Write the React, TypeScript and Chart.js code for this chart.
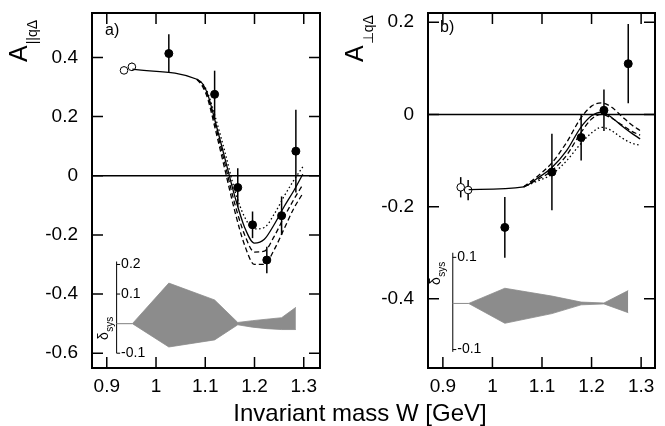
import { useEffect, useRef } from 'react';
import { Chart, registerables } from 'chart.js';
Chart.register(...registerables);

const FONT = '"Liberation Sans", Arial, Helvetica, sans-serif';

// ---- shared x axis ----
const xTicks = [0.9, 1.0, 1.1, 1.2, 1.3];
const xTickLabels = ['0.9', '1', '1.1', '1.2', '1.3'];

// ---- panel a ----
const aYTicks = [-0.6, -0.4, -0.2, 0, 0.2, 0.4];
const aYTickLabels = ['-0.6', '-0.4', '-0.2', '0', '0.2', '0.4'];
const aOpenW = [0.935, 0.951];
const aOpenY = [0.356, 0.368];
const aOpenErr = [0.012, 0.014];
const aW = [1.026, 1.119, 1.166, 1.196, 1.225, 1.255, 1.284];
const aY = [0.413, 0.275, -0.04, -0.166, -0.285, -0.135, 0.083];
const aErr = [0.065, 0.08, 0.065, 0.045, 0.045, 0.065, 0.14];
const aSolidW = [0.952, 1.083, 1.095, 1.105, 1.12, 1.14, 1.16, 1.18, 1.2, 1.22, 1.24, 1.26, 1.28, 1.298];
const aSolidY = [0.36, 0.326, 0.31, 0.275, 0.185, 0.058, -0.07, -0.175, -0.228, -0.215, -0.165, -0.105, -0.05, 0.005];
const aModW = [1.083, 1.095, 1.105, 1.12, 1.14, 1.16, 1.18, 1.2, 1.22, 1.24, 1.26, 1.28, 1.298];
const aDottedY = [0.326, 0.31, 0.28, 0.2, 0.08, -0.05, -0.14, -0.18, -0.175, -0.13, -0.07, -0.015, 0.03];
const aDashed1Y = [0.326, 0.305, 0.27, 0.175, 0.04, -0.095, -0.2, -0.258, -0.255, -0.205, -0.14, -0.08, -0.03];
const aDashed2Y = [0.326, 0.3, 0.26, 0.16, 0.02, -0.12, -0.235, -0.3, -0.3, -0.25, -0.18, -0.11, -0.06];
const aBandW = [0.92, 0.952, 1.026, 1.119, 1.166, 1.196, 1.225, 1.255, 1.284];
const aBandUp = [0, 0, 0.137, 0.08, 0.004, 0.01, 0.015, 0.02, 0.055];
const aBandLo = [0, 0, -0.079, -0.055, -0.004, -0.012, -0.017, -0.02, -0.02];
const aInsetTicks = [0.2, 0.1, -0.1];
const aInsetLabels = ['0.2', '0.1', '-0.1'];

// ---- panel b ----
const bYTicks = [-0.4, -0.2, 0, 0.2];
const bYTickLabels = ['-0.4', '-0.2', '0', '0.2'];
const bOpenW = [0.936, 0.951];
const bOpenY = [-0.158, -0.164];
const bOpenErr = [0.022, 0.022];
const bW = [1.025, 1.12, 1.179, 1.225, 1.274];
const bY = [-0.245, -0.125, -0.05, 0.009, 0.11];
const bErr = [0.066, 0.083, 0.05, 0.045, 0.086];
const bSolidW = [0.952, 1.063, 1.09, 1.12, 1.15, 1.177, 1.2, 1.22, 1.24, 1.26, 1.28, 1.298];
const bSolidY = [-0.163, -0.157, -0.139, -0.115, -0.078, -0.03, -0.003, 0.005, -0.006, -0.024, -0.04, -0.053];
const bModW = [1.063, 1.09, 1.12, 1.15, 1.177, 1.2, 1.22, 1.24, 1.26, 1.28, 1.298];
const bDashed1Y = [-0.157, -0.135, -0.105, -0.06, -0.01, 0.018, 0.025, 0.016, -0.003, -0.022, -0.035];
const bDashed2Y = [-0.157, -0.142, -0.122, -0.088, -0.042, -0.01, 0.0, -0.008, -0.022, -0.036, -0.045];
const bDottedY = [-0.157, -0.145, -0.13, -0.1, -0.065, -0.04, -0.028, -0.035, -0.05, -0.062, -0.067];
const bBandW = [0.92, 0.952, 1.025, 1.12, 1.179, 1.225, 1.274];
const bBandUp = [0, 0, 0.033, 0.016, 0.003, 0.001, 0.028];
const bBandLo = [0, 0, -0.043, -0.022, -0.003, -0.001, -0.02];
const bInsetTicks = [0.1, -0.1];
const bInsetLabels = ['0.1', '-0.1'];

const pts = (xs: number[], ys: number[]) => xs.map((x, i) => ({ x, y: ys[i] }));

const curve = (xs: number[], ys: number[], dash: number[]) => ({
  data: pts(xs, ys),
  showLine: true,
  pointRadius: 0,
  borderColor: '#000',
  borderWidth: 1.3,
  borderDash: dash,
  fill: false,
  cubicInterpolationMode: 'monotone',
});

type Panel = {
  xMin: number; xMax: number; yMin: number; yMax: number;
  yTicks: number[]; yTickLabels: string[];
  leftW: number; canvasW: number;
  insetZero: number; insetTop: number; insetBottom: number;
  insetTicks: number[]; insetLabels: string[];
  bandW: number[]; bandUp: number[]; bandLo: number[];
  curves: any[];
  openW: number[]; openY: number[]; openErr: number[];
  w: number[]; y: number[]; err: number[];
  label: string; labelX: number; labelY: number;
  sub: string; titleX: number; titleY: number;
  deltaX: number; deltaY: number;
};

const panelA: Panel = {
  xMin: 0.87, xMax: 1.333, yMin: -0.65, yMax: 0.55,
  yTicks: aYTicks, yTickLabels: aYTickLabels,
  leftW: 92, canvasW: 330,
  insetZero: -0.5, insetTop: 0.21, insetBottom: -0.1,
  insetTicks: aInsetTicks, insetLabels: aInsetLabels,
  bandW: aBandW, bandUp: aBandUp, bandLo: aBandLo,
  curves: [
    curve(aSolidW, aSolidY, []),
    curve(aModW, aDottedY, [1.5, 2.5]),
    curve(aModW, aDashed1Y, [5, 3]),
    curve(aModW, aDashed2Y, [5, 3]),
  ],
  openW: aOpenW, openY: aOpenY, openErr: aOpenErr,
  w: aW, y: aY, err: aErr,
  label: 'a)', labelX: 105, labelY: 35,
  sub: '||qΔ', titleX: 27, titleY: 62,
  deltaX: 108, deltaY: 340,
};

const panelB: Panel = {
  xMin: 0.87, xMax: 1.328, yMin: -0.55, yMax: 0.22,
  yTicks: bYTicks, yTickLabels: bYTickLabels,
  leftW: 98, canvasW: 335,
  insetZero: -0.41, insetTop: 0.11, insetBottom: -0.105,
  insetTicks: bInsetTicks, insetLabels: bInsetLabels,
  bandW: bBandW, bandUp: bBandUp, bandLo: bBandLo,
  curves: [
    curve(bSolidW, bSolidY, []),
    curve(bModW, bDashed1Y, [5, 3]),
    curve(bModW, bDashed2Y, [5, 3]),
    curve(bModW, bDottedY, [1.5, 2.5]),
  ],
  openW: bOpenW, openY: bOpenY, openErr: bOpenErr,
  w: bW, y: bY, err: bErr,
  label: 'b)', labelX: 110, labelY: 32,
  sub: '⊥qΔ', titleX: 33, titleY: 62,
  deltaX: 110, deltaY: 285,
};

function resetCtx(ctx: CanvasRenderingContext2D) {
  ctx.setLineDash([]);
  ctx.globalAlpha = 1;
  ctx.globalCompositeOperation = 'source-over';
  ctx.strokeStyle = '#000';
  ctx.fillStyle = '#000';
  ctx.lineCap = 'butt';
}

function makeDeco(p: Panel) {
  return {
    id: 'deco',
    beforeDatasetsDraw(chart: any) {
      const { ctx, chartArea: ca, scales } = chart;
      const xs = scales.x, ys = scales.y;
      ctx.save();
      resetCtx(ctx);
      // frame ticks (inward, mirrored)
      ctx.lineWidth = 1.5;
      const tl = 11;
      xTicks.forEach((t) => {
        const px = xs.getPixelForValue(t);
        ctx.beginPath();
        ctx.moveTo(px, ca.bottom); ctx.lineTo(px, ca.bottom - tl);
        ctx.moveTo(px, ca.top); ctx.lineTo(px, ca.top + tl);
        ctx.stroke();
      });
      p.yTicks.forEach((t) => {
        const py = ys.getPixelForValue(t);
        ctx.beginPath();
        ctx.moveTo(ca.left, py); ctx.lineTo(ca.left + tl, py);
        ctx.moveTo(ca.right, py); ctx.lineTo(ca.right - tl, py);
        ctx.stroke();
      });
      ctx.lineWidth = 2;
      ctx.beginPath();
      ctx.rect(ca.left, ca.top, ca.right - ca.left, ca.bottom - ca.top);
      ctx.stroke();
      // zero line
      ctx.lineWidth = 1.5;
      const y0 = ys.getPixelForValue(0);
      ctx.beginPath(); ctx.moveTo(ca.left, y0); ctx.lineTo(ca.right, y0); ctx.stroke();
      // inset axis
      const ix = xs.getPixelForValue(0.92);
      ctx.lineWidth = 1;
      ctx.beginPath();
      ctx.moveTo(ix, ys.getPixelForValue(p.insetTop + p.insetZero));
      ctx.lineTo(ix, ys.getPixelForValue(p.insetBottom + p.insetZero));
      ctx.stroke();
      ctx.font = `14px ${FONT}`;
      ctx.textBaseline = 'middle';
      ctx.textAlign = 'left';
      p.insetTicks.forEach((t, i) => {
        const py = ys.getPixelForValue(t + p.insetZero);
        ctx.beginPath(); ctx.moveTo(ix, py); ctx.lineTo(ix + 3.5, py); ctx.stroke();
        ctx.fillText(p.insetLabels[i], ix + 4.5, py);
      });
      // delta_sys label
      ctx.save();
      ctx.translate(p.deltaX, p.deltaY);
      ctx.rotate(-Math.PI / 2);
      ctx.textBaseline = 'alphabetic';
      ctx.font = `14px ${FONT}`;
      ctx.fillText('δ', 0, 0);
      const dw = ctx.measureText('δ').width;
      ctx.font = `10px ${FONT}`;
      ctx.fillText('sys', dw + 0.5, 5);
      ctx.restore();
      // panel label
      ctx.font = `16px ${FONT}`;
      ctx.textBaseline = 'alphabetic';
      ctx.textAlign = 'left';
      ctx.fillText(p.label, p.labelX, p.labelY);
      // y title
      ctx.save();
      ctx.translate(p.titleX, p.titleY);
      ctx.rotate(-Math.PI / 2);
      ctx.font = `25px ${FONT}`;
      ctx.fillText('A', 0, 0);
      const aw = ctx.measureText('A').width;
      ctx.font = `14px ${FONT}`;
      ctx.fillText(p.sub, aw + 1, 10);
      ctx.restore();
      // error bars
      ctx.lineWidth = 1.5;
      chart.data.datasets.forEach((ds: any) => {
        if (!ds.errors) return;
        ds.data.forEach((d: any, i: number) => {
          const px = xs.getPixelForValue(d.x);
          ctx.beginPath();
          ctx.moveTo(px, ys.getPixelForValue(d.y + ds.errors[i]));
          ctx.lineTo(px, ys.getPixelForValue(d.y - ds.errors[i]));
          ctx.stroke();
        });
      });
      ctx.restore();
    },
  };
}

function makeConfig(p: Panel): any {
  const band = (ys: number[]) => ys.map((v) => v + p.insetZero);
  const datasets: any[] = [
    {
      data: pts(p.bandW, band(p.bandUp)), showLine: true, pointRadius: 0,
      borderColor: 'rgb(140,140,140)', borderWidth: 0.8, backgroundColor: 'rgb(140,140,140)',
      fill: false, tension: 0,
    },
    {
      data: pts(p.bandW, band(p.bandLo)), showLine: true, pointRadius: 0,
      borderColor: 'rgb(140,140,140)', borderWidth: 0.8, backgroundColor: 'rgb(140,140,140)',
      fill: '-1', tension: 0,
    },
    ...p.curves,
    {
      data: pts(p.openW, p.openY), errors: p.openErr, showLine: false,
      pointRadius: 3.8, pointBackgroundColor: '#fff', pointBorderColor: '#000', pointBorderWidth: 1,
    },
    {
      data: pts(p.w, p.y), errors: p.err, showLine: false,
      pointRadius: 4, pointBackgroundColor: '#000', pointBorderColor: '#000', pointBorderWidth: 1,
    },
  ];
  return {
    type: 'scatter',
    data: { datasets },
    options: {
      animation: false,
      responsive: false,
      maintainAspectRatio: false,
      layout: { autoPadding: false, padding: { left: 0, right: 10, top: 13, bottom: 0 } },
      plugins: { legend: { display: false }, tooltip: { enabled: false } },
      scales: {
        x: {
          type: 'linear', min: p.xMin, max: p.xMax,
          grid: { display: false, drawTicks: false },
          border: { display: false },
          afterBuildTicks: (s: any) => { s.ticks = xTicks.map((v) => ({ value: v })); },
          afterFit: (s: any) => { s.height = 58; s.paddingLeft = 0; s.paddingRight = 0; },
          ticks: {
            autoSkip: false, maxRotation: 0, padding: 7, color: '#000',
            font: { family: FONT, size: 19 },
            callback: (_v: any, i: number) => xTickLabels[i],
          },
        },
        y: {
          type: 'linear', min: p.yMin, max: p.yMax,
          grid: { display: false, drawTicks: false },
          border: { display: false },
          afterBuildTicks: (s: any) => { s.ticks = p.yTicks.map((v) => ({ value: v })); },
          afterFit: (s: any) => { s.width = p.leftW; s.paddingTop = 0; s.paddingBottom = 0; },
          ticks: {
            autoSkip: false, padding: 14, color: '#000',
            font: { family: FONT, size: 19 },
            callback: (_v: any, i: number) => p.yTickLabels[i],
          },
        },
      },
    },
    plugins: [makeDeco(p)],
  };
}

function PanelChart({ p, left }: { p: Panel; left: number }) {
  const ref = useRef<HTMLCanvasElement>(null);
  useEffect(() => {
    if (!ref.current) return;
    const c = new Chart(ref.current, makeConfig(p));
    return () => c.destroy();
  }, [p]);
  return (
    <canvas
      ref={ref}
      width={p.canvasW}
      height={426}
      style={{ position: 'absolute', left, top: 0, width: p.canvasW, height: 426 }}
    />
  );
}

export default function App() {
  return (
    <div style={{ position: 'absolute', left: 0, top: 0, width: 665, height: 426, background: '#fff', overflow: 'hidden' }}>
      <PanelChart p={panelA} left={0} />
      <PanelChart p={panelB} left={330} />
      <div
        style={{
          position: 'absolute', left: 160, width: 400, top: 401, textAlign: 'center',
          font: `24px ${FONT}`, lineHeight: '24px', color: '#000', whiteSpace: 'nowrap',
        }}
      >
        Invariant mass W [GeV]
      </div>
    </div>
  );
}
